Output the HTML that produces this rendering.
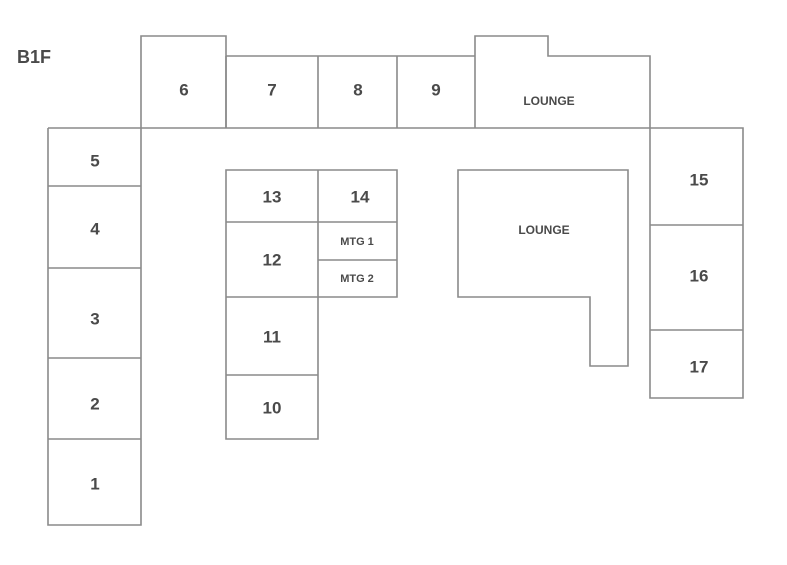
<!DOCTYPE html>
<html><head><meta charset="utf-8"><style>
body{margin:0;background:#fff}
svg text{font-family:"Liberation Sans",sans-serif;font-weight:bold;fill:#4a4a4a;text-anchor:middle;dominant-baseline:middle}
</style></head><body>
<svg width="787" height="560" viewBox="0 0 787 560" xmlns="http://www.w3.org/2000/svg">
<g fill="none" stroke="#8a8a8a" stroke-width="1.6">
<!-- top row -->
<path d="M141,128 V36 H226 V128"/>
<path d="M226,56 H475 M226,128 V56 M318,56 V128 M397,56 V128 M475,128 V36 H548 V56 H650 V128"/>
<path d="M48,128 H743 V398 H650 V128"/>
<!-- left column -->
<path d="M48,128 V525 H141 V128 M48,186 H141 M48,268 H141 M48,358 H141 M48,439 H141"/>
<!-- middle -->
<path d="M226,170 H397 V297 H318 V439 H226 Z M318,170 V297 M226,222 H397 M226,297 H318 M318,260 H397 M226,375 H318"/>
<!-- lounge L -->
<path d="M458,170 H628 V366 H590 V297 H458 Z"/>
<!-- right -->
<path d="M650,225 H743 M650,330 H743"/>
</g>
<text x="34" y="58" font-size="18" text-anchor="middle">B1F</text>
<g font-size="17">
<text x="184" y="91">6</text><text x="272" y="91">7</text><text x="358" y="91">8</text><text x="436" y="91">9</text>
<text x="95" y="162">5</text><text x="95" y="230">4</text><text x="95" y="320">3</text><text x="95" y="405">2</text><text x="95" y="485">1</text>
<text x="272" y="198">13</text><text x="360" y="198">14</text><text x="272" y="261">12</text><text x="272" y="338">11</text><text x="272" y="409">10</text>
<text x="699" y="181">15</text><text x="699" y="277">16</text><text x="699" y="368">17</text>
</g>
<g font-size="12">
<text x="549" y="102">LOUNGE</text><text x="544" y="231">LOUNGE</text>
<text x="357" y="242" font-size="11">MTG 1</text><text x="357" y="279" font-size="11">MTG 2</text>
</g>
</svg>
</body></html>
